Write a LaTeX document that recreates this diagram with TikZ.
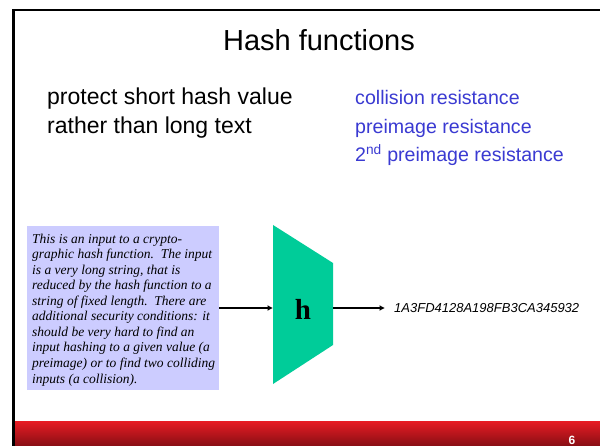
\documentclass[tikz,border=0pt]{standalone}
\usepackage{fontspec}
\setmainfont{Liberation Sans}
\newfontfamily\serifit{Liberation Serif}
\usetikzlibrary{arrows.meta}
\definecolor{hgreen}{RGB}{0,204,153}
\definecolor{boxblue}{RGB}{204,204,255}
\definecolor{txtblue}{RGB}{58,58,210}
\definecolor{barred}{RGB}{232,28,36}
\definecolor{barmid}{RGB}{222,26,34}
\definecolor{bardark}{RGB}{135,14,20}
\begin{document}
\begin{tikzpicture}[x=1bp,y=-1bp,
  titletxt/.style={anchor=base, inner sep=0, font=\fontsize{29bp}{34bp}\selectfont},
  lefttxt/.style={anchor=base west, inner sep=0, font=\fontsize{23bp}{27bp}\selectfont},
  righttxt/.style={anchor=base west, inner sep=0, text=txtblue, font=\fontsize{19.6bp}{23bp}\selectfont},
  inbox/.style={fill=boxblue, inner sep=0, minimum width=192bp, minimum height=164bp},
  intext/.style={anchor=north west, inner sep=0, align=left, font=\serifit\itshape\fontsize{13.5bp}{15.55bp}\selectfont},
  hashbox/.style={fill=hgreen},
  hlabel/.style={anchor=base, inner sep=0, font=\serifit\bfseries\fontsize{29bp}{30bp}\selectfont},
  hashtxt/.style={anchor=west, inner sep=0, font=\itshape\fontsize{13bp}{15bp}\selectfont},
  conn/.style={line width=1.5bp, -{Latex[length=5.5bp,width=6bp]}},
  frameline/.style={line width=2.8bp},
  pagenum/.style={anchor=base, inner sep=0, text=white, font=\bfseries\fontsize{12bp}{14bp}\selectfont}]
\useasboundingbox (0,0) rectangle (600,446);
\fill[white] (0,0) rectangle (600,446);
% frame and footer
\shade[top color=barred, middle color=barmid, bottom color=bardark] (15,421) rectangle (600,446);
\draw[frameline] (13.5,446) -- (13.5,10) -- (600,10);
\node[pagenum] (num) at (572,444.5) {6};
% title and texts
\node[titletxt] (title) at (319,50.5) {Hash functions};
\node[lefttxt] (l1) at (47,105) {protect short hash value};
\node[lefttxt] (l2) at (47,133.3) {rather than long text};
\node[righttxt] (r1) at (355,105) {collision resistance};
\node[righttxt] (r2) at (355,133.3) {preimage resistance};
\node[righttxt] (r3) at (355,161.6) {2\textsuperscript{nd} preimage resistance};
% input box
\node[inbox] (inbox) at (123,308) {};
\node[intext] (intext) at (32,233.5) {This is an input to a crypto-\\graphic hash function.\ \ The input\\is a very long string, that is\\reduced by the hash function to a\\string of fixed length.\ \ There are\\additional security conditions: it\\should be very hard to find an\\input hashing to a given value (a\\preimage) or to find two colliding\\inputs (a collision).};
% hash function
\fill[hashbox] (273,225) -- (333,263) -- (333,345) -- (273,384) -- cycle;
\coordinate (hin) at (273,308);
\coordinate (hout) at (333,308);
\node[hlabel] (h) at (303,319) {h};
\node[hashtxt] (hashval) at (394,308) {1A3FD4128A198FB3CA345932};
% connectors
\draw[conn] (inbox.east) -- (hin);
\draw[conn, shorten >=9bp] (hout) -- (hashval.west);
\end{tikzpicture}
\end{document}
